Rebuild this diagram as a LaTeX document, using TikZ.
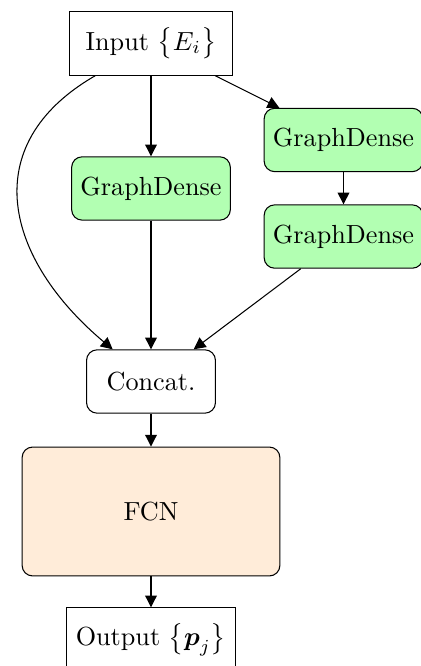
\documentclass[tikz,border=0pt]{standalone}
\usepackage{amsmath}
\usepackage{amssymb}
\usetikzlibrary{arrows.meta}
\tikzset{>={Triangle[length=4.5pt,width=4.5pt]}}
\tikzset{iobox/.style={draw, minimum height=0.85cm}}
\tikzset{gdense/.style={draw, rounded corners, fill=green!30,
  minimum width=2.13cm, minimum height=0.85cm}}
\tikzset{plainbox/.style={draw, rounded corners,
  minimum width=1.73cm, minimum height=0.85cm}}

\begin{document}
\begin{tikzpicture}
      \useasboundingbox (-2.027, -8.356) rectangle (3.624, 0.584);

      \node [iobox, minimum width=2.2cm] (input) at (0, 0) {Input $\bigl\{E_i\bigr\}$};
      \node [gdense] (gd) at (0, -1.946) {GraphDense};
      \node [gdense] (gda) at (2.584, -1.295) {GraphDense};
      \node [gdense] (gdb) at (2.584, -2.591) {GraphDense};
      \node [plainbox] (concat) at (0, -4.537) {Concat.};
      \node [plainbox, fill=orange!15, minimum width=3.46cm, minimum height=1.73cm] (fcn) at (0, -6.282) {FCN};
      \node [iobox, minimum width=2.27cm] (output) at (0, -8.0) {Output $\bigl\{\boldsymbol{p}_j\bigr\}$};

      % three branches out of the input
      \draw [->] (input) -- (gd);
      \draw [->] (input) -- (gda);
      \draw [->] (gda) -- (gdb);
      \draw [->] (input) to [out=-150, in=140, looseness=1.3] (concat);

      % everything meets at the concatenation
      \draw [->] (gd) -- (concat);
      \draw [->] (gdb) -- (concat);
      \draw [->] (concat) -- (fcn);
      \draw [->] (fcn) -- (output);
    \end{tikzpicture}
\end{document}
